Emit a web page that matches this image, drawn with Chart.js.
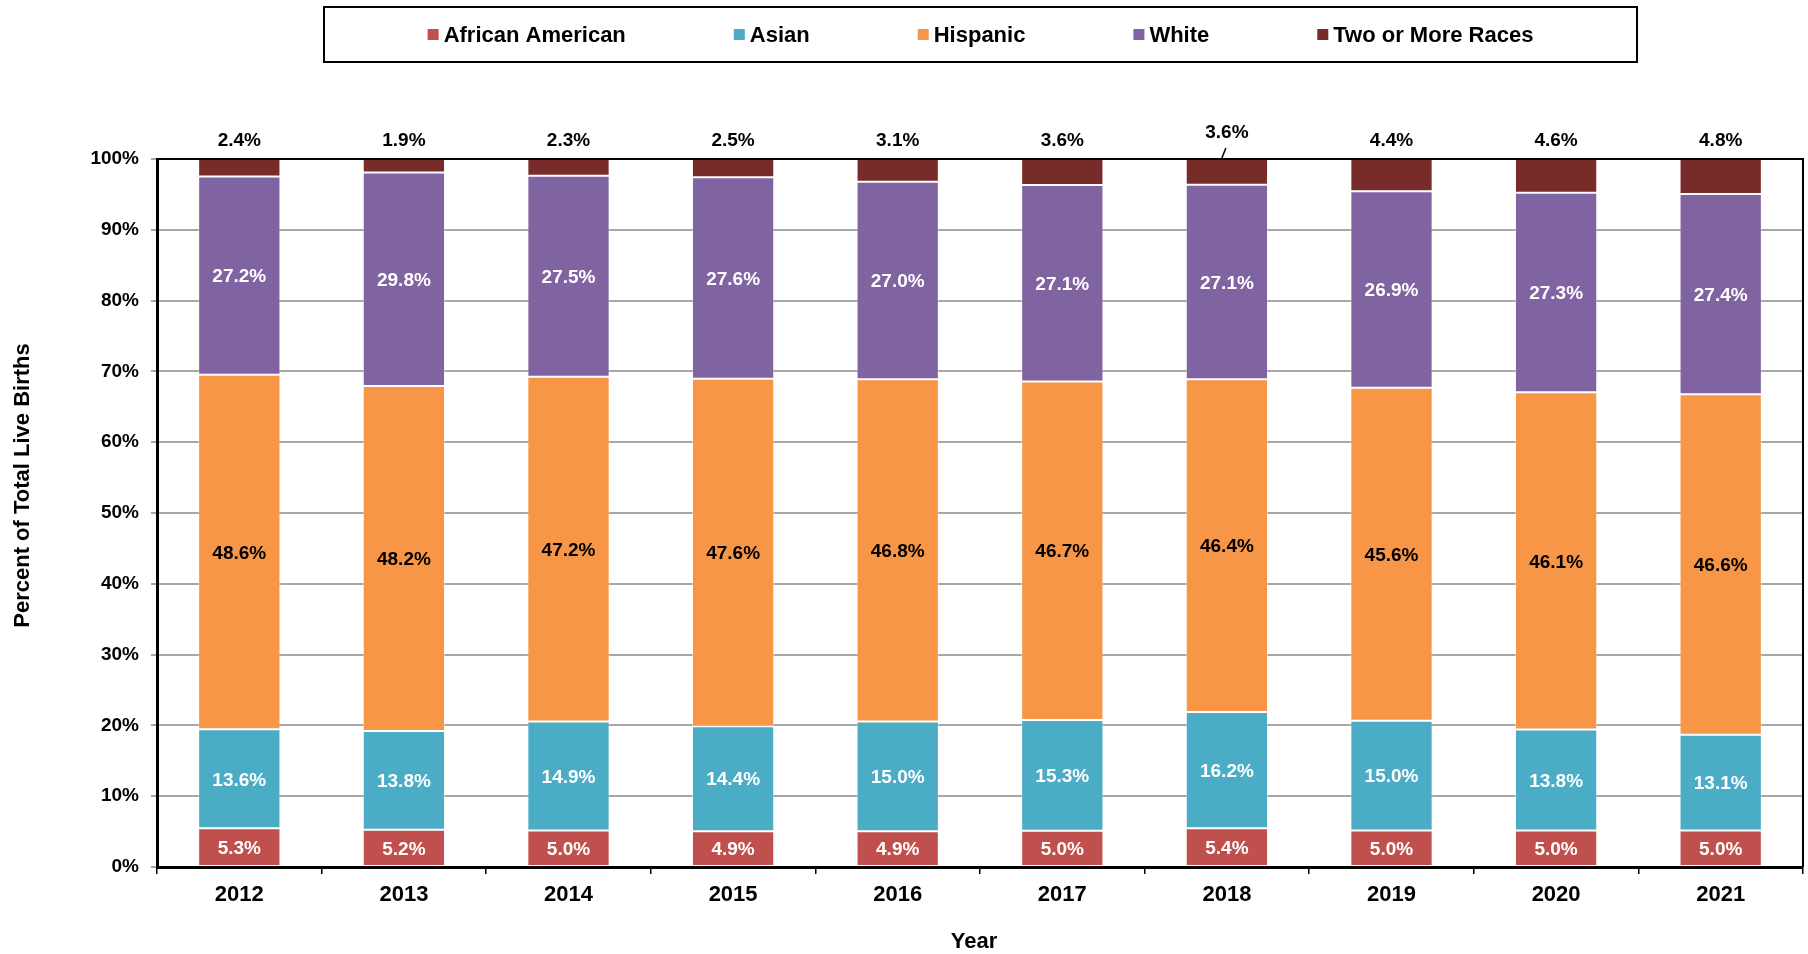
<!DOCTYPE html>
<html>
<head>
<meta charset="utf-8">
<script src="https://cdn.jsdelivr.net/npm/chart.js@4/dist/chart.umd.min.js"></script>
<style>
html,body{margin:0;padding:0;background:#fff;overflow:hidden}
#wrap{width:1808px;height:954px;position:relative}
</style>
</head>
<body>
<div id="wrap"><canvas id="c" width="1808" height="954"></canvas></div>
<script>
// ---- Data (percent of total live births, as labelled) ----
const years = ['2012','2013','2014','2015','2016','2017','2018','2019','2020','2021'];
const africanAmerican = [5.3, 5.2, 5.0, 4.9, 4.9, 5.0, 5.4, 5.0, 5.0, 5.0];
const asian           = [13.6, 13.8, 14.9, 14.4, 15.0, 15.3, 16.2, 15.0, 13.8, 13.1];
const hispanic        = [48.6, 48.2, 47.2, 47.6, 46.8, 46.7, 46.4, 45.6, 46.1, 46.6];
const white           = [27.2, 29.8, 27.5, 27.6, 27.0, 27.1, 27.1, 26.9, 27.3, 27.4];
const twoOrMoreRaces  = [2.4, 1.9, 2.3, 2.5, 3.1, 3.6, 3.6, 4.4, 4.6, 4.8];
const seriesNames = ['African American','Asian','Hispanic','White','Two or More Races'];
const yTickValues = [0,10,20,30,40,50,60,70,80,90,100];
const xTitle = 'Year';
const yTitle = 'Percent of Total Live Births';

const FONT = '"Liberation Sans", Arial, Helvetica, sans-serif';
const seriesRaw = [africanAmerican, asian, hispanic, white, twoOrMoreRaces];
const colors = ['#C0504D','#4BACC6','#F79646','#8064A2','#772C2A'];
const labelColors = ['#ffffff','#ffffff','#000000','#ffffff','#000000'];

// 100% stacked: each bar is scaled to its own total
const totals = years.map((_, i) => seriesRaw.reduce((s, arr) => s + arr[i], 0));
const datasets = seriesRaw.map((arr, k) => ({
  label: seriesNames[k],
  data: arr.map((v, i) => v / totals[i] * 100),
  raw: arr,
  backgroundColor: colors[k],
  borderColor: 'rgba(255,255,255,0.45)',
  borderWidth: 1,
  borderSkipped: false,
  categoryPercentage: 1.0,
  barPercentage: 0.5
}));

const frameAndLabels = {
  id: 'frameAndLabels',
  afterDatasetsDraw(chart) {
    const ctx = chart.ctx;
    const ca = chart.chartArea;
    ctx.save();
    // plot frame (top & right)
    ctx.strokeStyle = '#000';
    ctx.lineWidth = 2;
    ctx.beginPath();
    ctx.moveTo(ca.left, ca.top);
    ctx.lineTo(ca.right, ca.top);
    ctx.lineTo(ca.right, ca.bottom);
    ctx.stroke();
    // value labels
    ctx.font = 'bold 19px ' + FONT;
    ctx.textAlign = 'center';
    ctx.textBaseline = 'middle';
    chart.data.datasets.forEach((ds, k) => {
      const meta = chart.getDatasetMeta(k);
      meta.data.forEach((bar, i) => {
        const txt = ds.raw[i].toFixed(1) + '%';
        ctx.fillStyle = labelColors[k];
        if (k === chart.data.datasets.length - 1) {
          let ty = ca.top - 18;
          if (i === 6) {
            ty = ca.top - 26;
            ctx.strokeStyle = '#000';
            ctx.lineWidth = 1.5;
            ctx.beginPath();
            ctx.moveTo(bar.x - 1, ca.top - 11);
            ctx.lineTo(bar.x - 5, ca.top - 1);
            ctx.stroke();
          }
          ctx.fillText(txt, bar.x, ty);
        } else {
          ctx.fillText(txt, bar.x, (bar.y + bar.base) / 2 + 1.5);
        }
      });
    });
    ctx.restore();
  },
  afterDraw(chart) {
    const ctx = chart.ctx;
    ctx.save();
    // axis titles
    ctx.fillStyle = '#000';
    ctx.font = 'bold 22px ' + FONT;
    ctx.textAlign = 'center';
    ctx.textBaseline = 'middle';
    ctx.fillText(xTitle, 974, 942);
    ctx.save();
    ctx.translate(23, 485.5);
    ctx.rotate(-Math.PI / 2);
    ctx.fillText(yTitle, 0, 0);
    ctx.restore();
    // legend box
    ctx.strokeStyle = '#000';
    ctx.lineWidth = 2;
    ctx.strokeRect(324, 7, 1313, 55);
    ctx.font = 'bold 22px ' + FONT;
    ctx.textBaseline = 'alphabetic';
    ctx.textAlign = 'left';
    const sq = 11, sqGap = 5, gap = 108;
    const widths = seriesNames.map(n => ctx.measureText(n).width);
    const total = widths.reduce((s, w) => s + w + sq + sqGap, 0) + gap * (seriesNames.length - 1);
    let x = 980.5 - total / 2;
    seriesNames.forEach((n, k) => {
      ctx.fillStyle = colors[k];
      ctx.fillRect(x, 29, sq, sq);
      ctx.fillStyle = '#000';
      ctx.fillText(n, x + sq + sqGap, 42);
      x += sq + sqGap + widths[k] + gap;
    });
    ctx.restore();
  }
};

new Chart(document.getElementById('c'), {
  type: 'bar',
  data: { labels: years, datasets },
  options: {
    responsive: false,
    animation: false,
    devicePixelRatio: 1,
    layout: { padding: { top: 159, right: 5, left: 0, bottom: 0 } },
    plugins: {
      legend: { display: false },
      tooltip: { enabled: false },
      title: { display: false }
    },
    scales: {
      x: {
        stacked: true,
        offset: true,
        afterFit(scale) { scale.height = 87; },
        grid: {
          display: true, drawOnChartArea: false, drawTicks: true,
          tickLength: 7, color: '#000', lineWidth: 1.5, offset: true
        },
        border: { display: true, color: '#000', width: 3 },
        ticks: { color: '#000', font: { family: FONT, size: 22, weight: 'bold' }, padding: 8, maxRotation: 0 },
        title: { display: false, text: xTitle }
      },
      y: {
        stacked: true,
        min: 0, max: 100,
        afterFit(scale) { scale.width = 157; },
        afterBuildTicks(scale) { scale.ticks = yTickValues.map(v => ({ value: v })); },
        grid: { color: '#a6a6a6', lineWidth: 2, tickLength: 6, drawTicks: true },
        border: { display: true, color: '#000', width: 3 },
        ticks: {
          color: '#000', padding: 12,
          font: { family: FONT, size: 19, weight: 'bold' },
          callback: v => v + '%'
        },
        title: { display: false, text: yTitle }
      }
    }
  },
  plugins: [frameAndLabels]
});
</script>
</body>
</html>
